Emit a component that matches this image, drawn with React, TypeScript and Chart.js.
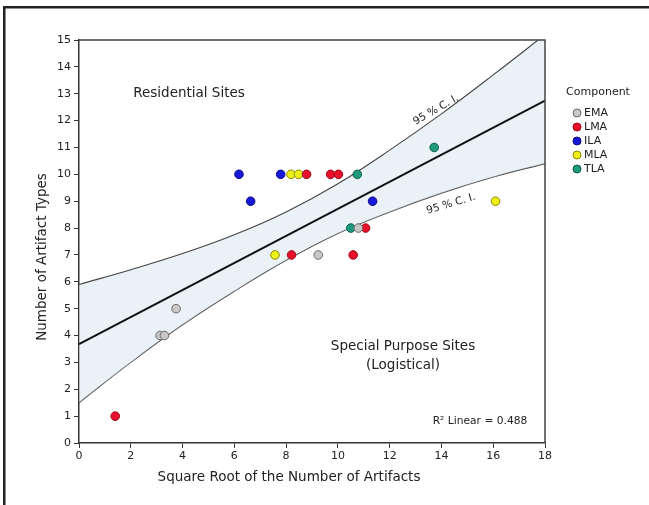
import React, { useEffect, useRef } from "react";
import { Chart, registerables } from "chart.js";

Chart.register(...registerables);

const FONT = "'DejaVu Sans', 'Liberation Sans', sans-serif";

// Component point data (x = sqrt of artifact count, y = artifact types)
const emaX = [3.13, 3.3, 3.75, 9.24, 10.79];
const emaY = [4, 4, 5, 7, 8];
const lmaX = [1.4, 8.79, 9.72, 10.02, 8.21, 10.59, 11.07];
const lmaY = [1, 10, 10, 10, 7, 7, 8];
const ilaX = [6.18, 7.79, 6.63, 11.34];
const ilaY = [10, 10, 9, 9];
const mlaX = [8.19, 8.48, 7.57, 16.09];
const mlaY = [10, 10, 7, 9];
const tlaX = [10.75, 13.72, 10.5];
const tlaY = [10, 11, 8];

// Regression line and 95% confidence band
const regX = [0, 18];
const regY = [3.68, 12.74];
const ciX = [0, 2, 4, 6, 8, 10, 12, 14, 16, 18];
const ciUpper = [5.9, 6.45, 7.05, 7.75, 8.6, 9.65, 10.9, 12.25, 13.7, 15.2];
const ciLower = [1.5, 3.0, 4.4, 5.65, 6.8, 7.8, 8.6, 9.3, 9.9, 10.4];

const components = ["EMA", "LMA", "ILA", "MLA", "TLA"];
const fills = ["#c8c8c8", "#e8102a", "#1818d8", "#eeee18", "#1f9a7c"];
const borders = ["#6a6a6a", "#9a0a18", "#0a0a80", "#8a8a00", "#0f5c48"];
const seriesX = [emaX, lmaX, ilaX, mlaX, tlaX];
const seriesY = [emaY, lmaY, ilaY, mlaY, tlaY];

const xTitle = "Square Root of the Number of Artifacts";
const yTitle = "Number of Artifact Types";
const r2Text = "R\u00B2 Linear = 0.488";

const zip = (xs: number[], ys: number[]) => xs.map((x, i) => ({ x, y: ys[i] }));

const decor = {
  id: "decor",
  beforeDraw(chart: any) {
    const ctx = chart.ctx;
    ctx.save();
    ctx.fillStyle = "#ffffff";
    ctx.fillRect(0, 0, chart.width, chart.height);
    ctx.fillStyle = "#222222";
    ctx.fillRect(3, 6, chart.width - 3, 2.5);
    ctx.fillRect(3, 6, 2.5, chart.height - 6);
    ctx.restore();
  },
  afterDraw(chart: any) {
    const ctx = chart.ctx;
    const a = chart.chartArea;
    ctx.save();
    // plot frame (top and right)
    ctx.strokeStyle = "#444";
    ctx.lineWidth = 1.5;
    ctx.beginPath();
    ctx.moveTo(a.left, a.top);
    ctx.lineTo(a.right, a.top);
    ctx.lineTo(a.right, a.bottom);
    ctx.stroke();

    ctx.fillStyle = "#222";
    ctx.textAlign = "center";
    ctx.textBaseline = "middle";

    // axis titles
    ctx.font = `13.5px ${FONT}`;
    ctx.fillText(xTitle, 289, 477);
    ctx.save();
    ctx.translate(42, 257);
    ctx.rotate(-Math.PI / 2);
    ctx.fillText(yTitle, 0, 0);
    ctx.restore();

    // annotations
    ctx.font = `13.5px ${FONT}`;
    ctx.fillText("Residential Sites", 189, 93);
    ctx.fillText("Special Purpose Sites", 403, 346);
    ctx.fillText("(Logistical)", 403, 365);

    ctx.font = `10.5px ${FONT}`;
    ctx.save();
    ctx.translate(436, 110);
    ctx.rotate(-0.52);
    ctx.fillText("95 % C. I.", 0, 0);
    ctx.restore();
    ctx.save();
    ctx.translate(451, 204);
    ctx.rotate(-0.29);
    ctx.fillText("95 % C. I.", 0, 0);
    ctx.restore();

    ctx.font = `10.7px ${FONT}`;
    ctx.fillText(r2Text, 480, 421);

    // legend
    ctx.font = `11px ${FONT}`;
    ctx.fillText("Component", 598, 92);
    ctx.textAlign = "left";
    chart.data.datasets.forEach((ds: any) => {
      if (ds.legendIndex === undefined) return;
      const y = 113 + ds.legendIndex * 14;
      ctx.beginPath();
      ctx.arc(577, y, 4, 0, Math.PI * 2);
      ctx.fillStyle = ds.backgroundColor;
      ctx.fill();
      ctx.strokeStyle = ds.borderColor;
      ctx.lineWidth = 1;
      ctx.stroke();
      ctx.fillStyle = "#222";
      ctx.fillText(ds.label, 584, y);
    });
    ctx.restore();
  },
};

export default function App() {
  const ref = useRef<HTMLCanvasElement | null>(null);

  useEffect(() => {
    if (!ref.current) return;
    const pointSets = components.map((name, i) => ({
      type: "scatter" as const,
      label: name,
      legendIndex: i,
      data: zip(seriesX[i], seriesY[i]),
      backgroundColor: fills[i],
      borderColor: borders[i],
      borderWidth: 1,
      pointRadius: 4.3,
      order: 0,
    }));
    const chart = new Chart(ref.current, {
      type: "scatter",
      data: {
        datasets: [
          ...pointSets,
          {
            type: "line",
            label: "Regression",
            data: zip(regX, regY),
            borderColor: "#111",
            borderWidth: 2,
            pointRadius: 0,
            showLine: true,
            fill: false,
            order: 1,
          },
          {
            type: "line",
            label: "Upper CI",
            data: zip(ciX, ciUpper),
            borderColor: "#444",
            borderWidth: 1.1,
            pointRadius: 0,
            showLine: true,
            tension: 0.4,
            fill: "+1",
            backgroundColor: "rgba(214,229,241,0.5)",
            order: 2,
          },
          {
            type: "line",
            label: "Lower CI",
            data: zip(ciX, ciLower),
            borderColor: "#444",
            borderWidth: 1.1,
            pointRadius: 0,
            showLine: true,
            tension: 0.4,
            fill: false,
            order: 3,
          },
        ] as any,
      },
      options: {
        animation: false,
        responsive: false,
        maintainAspectRatio: false,
        layout: { padding: { top: 40, right: 104, left: 0, bottom: 0 } },
        plugins: {
          legend: { display: false },
          tooltip: { enabled: false },
        },
        scales: {
          x: {
            type: "linear",
            min: 0,
            max: 18,
            ticks: { stepSize: 2, color: "#222", font: { family: FONT, size: 11 }, padding: 2 },
            grid: { drawOnChartArea: false, drawTicks: true, tickLength: 5, color: "#333" },
            border: { color: "#333", width: 1.5 },
            afterFit: (s: any) => {
              s.height = 62;
            },
          },
          y: {
            type: "linear",
            min: 0,
            max: 15,
            ticks: { stepSize: 1, color: "#222", font: { family: FONT, size: 11 }, padding: 3 },
            grid: { drawOnChartArea: false, drawTicks: true, tickLength: 5, color: "#333" },
            border: { color: "#333", width: 1.5 },
            afterFit: (s: any) => {
              s.width = 79;
            },
          },
        },
      },
      plugins: [decor],
    });
    return () => chart.destroy();
  }, []);

  return (
    <div style={{ position: "fixed", left: 0, top: 0, width: 649, height: 505 }}>
      <canvas ref={ref} width={649} height={505} />
    </div>
  );
}
